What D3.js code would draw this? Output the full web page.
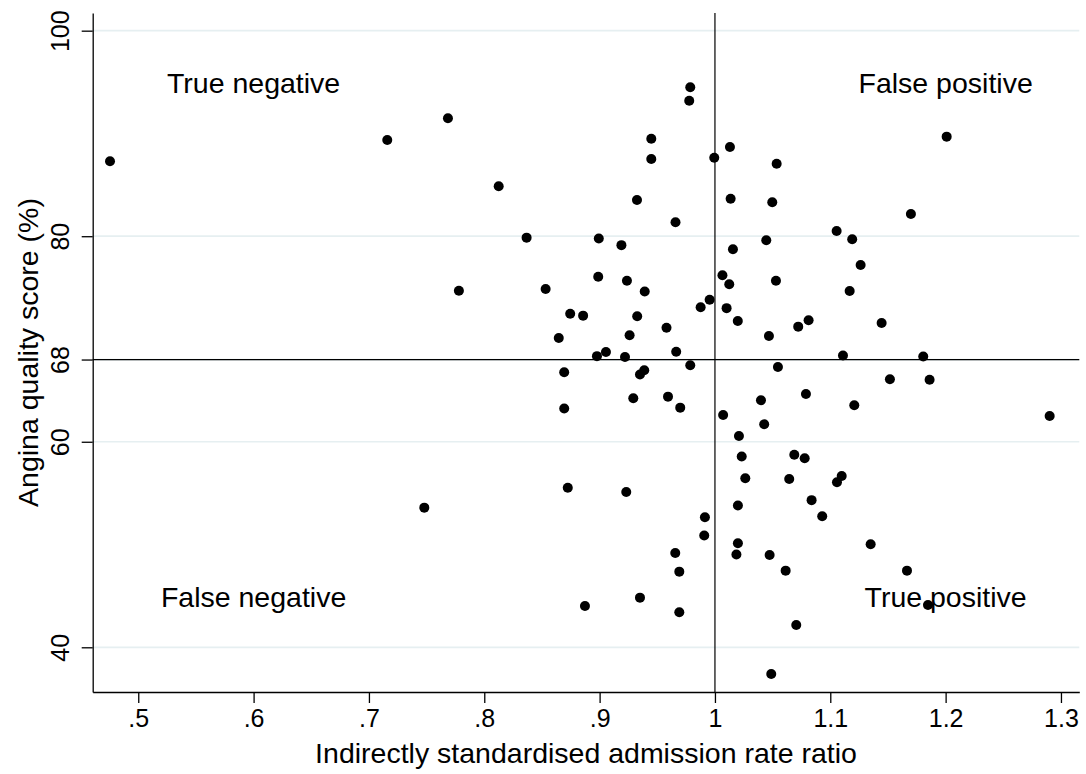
<!DOCTYPE html>
<html>
<head>
<meta charset="utf-8">
<script src="https://cdn.jsdelivr.net/npm/d3@7"></script>
<style>
  html, body { margin: 0; padding: 0; background: #fff; }
  svg { display: block; font-family: "Liberation Sans", Arial, Helvetica, sans-serif; }
</style>
</head>
<body>
<svg id="chart" width="1086" height="774"></svg>
<script>
// ---- Data ----
const admissionRatio = [
  0.4755, 0.7159, 0.9786, 0.9777, 0.7685, 0.9448, 1.0130, 0.9448, 0.9994, 0.8125,
  0.9324, 1.0136, 0.9658, 0.8367, 0.8993, 0.9189, 1.0156, 0.8988, 0.9237, 0.7780,
  0.8532, 0.9391, 1.0065, 1.0124, 0.9954, 0.9876, 1.0101, 1.0198, 0.8745, 0.8857,
  0.9326, 0.9580, 0.8646, 0.9260, 0.8977, 0.9055, 0.9220, 0.9664, 1.0535, 1.2009,
  1.0497, 1.1699, 1.1055, 1.1190, 1.0445, 1.1263, 1.0529, 1.1168, 1.0722, 1.0812,
  1.1445, 1.0468, 1.1110, 1.1806, 0.9786, 0.8693, 0.9387, 0.9350, 0.9292, 0.9593,
  0.9699, 0.8693, 1.0071, 1.0208, 1.0232, 0.8724, 0.9231, 0.7480, 1.0199, 0.9913,
  0.9907, 1.0546, 1.1517, 1.1861, 1.0789, 1.0399, 1.1208, 1.2902, 1.0427, 1.0688,
  1.0778, 1.0263, 1.0644, 1.1099, 1.1058, 1.0838, 1.0930, 1.0199, 1.0186, 0.9656,
  0.9691, 0.9350, 0.8873, 0.9691, 1.1350, 1.0474, 1.0613, 1.1665, 1.1847, 1.0705,
  1.0488
];
const qualityScore = [
  87.29, 89.36, 94.49, 93.19, 91.48, 89.49, 88.68, 87.52, 87.64, 84.86,
  83.53, 83.65, 81.36, 79.86, 79.78, 79.13, 78.73, 76.06, 75.67, 74.70,
  74.87, 74.62, 76.20, 75.33, 73.82, 73.09, 73.00, 71.75, 72.46, 72.27,
  72.21, 71.10, 70.10, 70.36, 68.33, 68.74, 68.25, 68.76, 87.05, 89.69,
  83.31, 82.16, 80.51, 79.70, 79.60, 77.20, 75.67, 74.67, 71.20, 71.83,
  71.56, 70.29, 68.40, 68.30, 67.44, 66.76, 66.96, 66.55, 64.23, 64.39,
  63.32, 63.24, 62.61, 60.56, 58.57, 55.53, 55.11, 53.59, 53.80, 52.66,
  50.87, 67.28, 66.09, 66.04, 64.65, 64.04, 63.56, 62.51, 61.70, 58.74,
  58.39, 56.45, 56.38, 56.67, 56.06, 54.32, 52.75, 50.13, 49.03, 49.18,
  47.36, 44.83, 44.02, 43.41, 50.02, 48.98, 47.46, 47.46, 44.12, 42.17,
  37.40
];
const xTickValues = [0.5, 0.6, 0.7, 0.8, 0.9, 1.0, 1.1, 1.2, 1.3];
const xTickLabels = [".5", ".6", ".7", ".8", ".9", "1", "1.1", "1.2", "1.3"];
const yTickValues = [40, 60, 68, 80, 100];
const yTickLabels = ["40", "60", "68", "80", "100"];
const refX = 1;
const refY = 68;
const quadrantNames = ["True negative", "False positive", "False negative", "True positive"];
const quadrantX = [0.6, 1.2, 0.6, 1.2];
const quadrantY = [95, 95, 45, 45];
const xTitle = "Indirectly standardised admission rate ratio";
const yTitle = "Angina quality score (%)";

// ---- Layout ----
const plot = { left: 92.7, right: 1079.3, top: 13, bottom: 692 };
const svg = d3.select("#chart");

const x = d3.scaleLinear().domain([0.4605, 1.3159]).range([plot.left, plot.right]);
const y = d3.scaleLinear().domain([35.65, 101.72]).range([plot.bottom, plot.top]);

svg.append("rect").attr("x", 0).attr("y", 0).attr("width", 1086).attr("height", 774).attr("fill", "#fff");

// gridlines
svg.append("g").selectAll("line").data(yTickValues).join("line")
  .attr("x1", plot.left).attr("x2", plot.right)
  .attr("y1", d => y(d)).attr("y2", d => y(d))
  .attr("stroke", "#e6eff1").attr("stroke-width", 1.7);

// reference lines
svg.append("line")
  .attr("x1", x(refX)).attr("x2", x(refX)).attr("y1", plot.top).attr("y2", plot.bottom)
  .attr("stroke", "#000").attr("stroke-width", 1.2);
svg.append("line")
  .attr("x1", plot.left).attr("x2", plot.right).attr("y1", y(refY)).attr("y2", y(refY))
  .attr("stroke", "#000").attr("stroke-width", 1.2);

// points
svg.append("g").selectAll("circle").data(admissionRatio.map((v, i) => [v, qualityScore[i]])).join("circle")
  .attr("cx", d => x(d[0])).attr("cy", d => y(d[1])).attr("r", 5).attr("fill", "#000");

// quadrant labels
svg.append("g").selectAll("text").data(quadrantNames).join("text")
  .attr("x", (d, i) => x(quadrantX[i])).attr("y", (d, i) => y(quadrantY[i]))
  .attr("dy", "0.4em").attr("text-anchor", "middle")
  .attr("font-size", 28.5).attr("fill", "#000").text(d => d);

// x axis
const xAxis = d3.axisBottom(x).tickValues(xTickValues)
  .tickFormat((d, i) => xTickLabels[i]).tickSizeInner(11).tickSizeOuter(0).tickPadding(6);
const gx = svg.append("g").attr("transform", `translate(0,${plot.bottom})`).call(xAxis);
gx.select(".domain").attr("stroke", "#000").attr("stroke-width", 1.3);
gx.selectAll(".tick line").attr("stroke", "#000").attr("stroke-width", 1.3);
gx.selectAll(".tick text").attr("font-size", 25).attr("fill", "#000");

// y axis
const yAxis = d3.axisLeft(y).tickValues(yTickValues)
  .tickFormat((d, i) => yTickLabels[i]).tickSizeInner(11).tickSizeOuter(0);
const gy = svg.append("g").attr("transform", `translate(${plot.left},0)`).call(yAxis);
gy.select(".domain").attr("stroke", "#000").attr("stroke-width", 1.3);
gy.selectAll(".tick line").attr("stroke", "#000").attr("stroke-width", 1.3);
gy.selectAll(".tick text")
  .attr("x", null).attr("dy", null)
  .attr("transform", "translate(-23.7,0) rotate(-90)")
  .attr("text-anchor", "middle")
  .attr("font-size", 25).attr("fill", "#000");
svg.selectAll("g").attr("font-family", null);

// titles
svg.append("text")
  .attr("x", (plot.left + plot.right) / 2).attr("y", 763)
  .attr("text-anchor", "middle").attr("font-size", 28.5).attr("fill", "#000")
  .text(xTitle);
svg.append("text")
  .attr("transform", `translate(38,${(plot.top + plot.bottom) / 2}) rotate(-90)`)
  .attr("text-anchor", "middle").attr("font-size", 28.5).attr("fill", "#000")
  .text(yTitle);
</script>
</body>
</html>
